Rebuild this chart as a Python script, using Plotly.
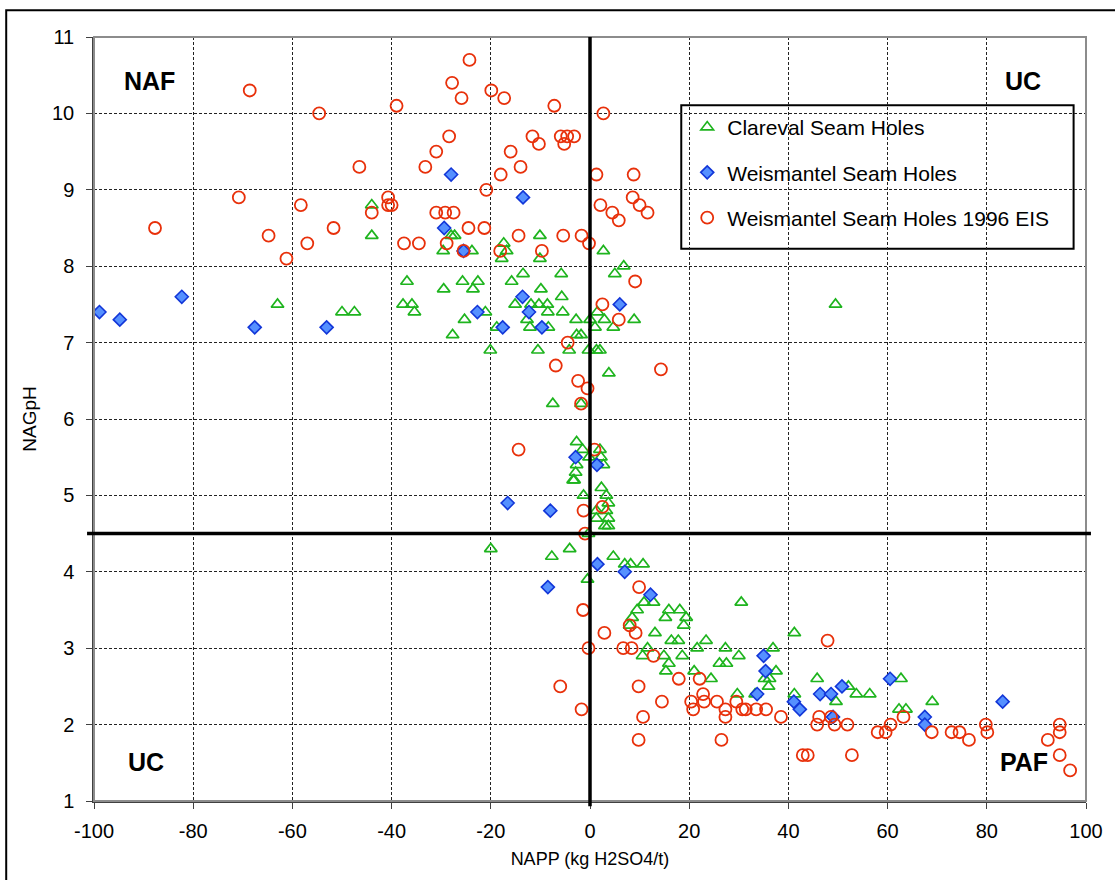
import plotly.graph_objects as go

# Clareval seam holes (NAPP, NAGpH)
clareval_x = [-63, -50, -47.5, -44, -44, -37.7, -35.9, -35.4, -36.9,
              -28, -27.3, -29.6, -23.8, -17.4, -16.8, -17.8, -10.1, -10.1, 2.7, 6.8, 5.0,
              -29.5, -25.7, -22.6, -23.6, -15.8, -13.5, -9.9, -5.8, -5.7,
              -25.3, -21.1, -27.7, -15.1, -11.9, -10.3, -8.6, -12.7, -12.1, -8.5, -5.5,
              -18.8, -8.4, -2.8, 0.0, 1.5, 2.9, 1.0, 4.7, 8.9, -2.7, -1.8,
              -20.1, -10.5, -4.2, -0.3, 1.3, 2.0, 3.8, -7.5, -1.8, 49.5,
              -2.7, -1.5, -0.2, 2.0, 2.2, 2.7, -2.7, -2.9, -3.2, -3.4, -1.3, 2.3, 3.3,
              3.7, 1.3, 3.3, 1.3, 3.7, 3.0, 3.7, -0.3,
              -20.0, -4.1, -7.7, 4.7, -0.5, 7.0, 8.2, 10.7,
              10.9, 12.8, 9.5, 8.5, 8.0, 15.9, 18.1, 15.2, 19.4, 18.9, 13.1, 30.5,
              16.4, 17.8, 23.4, 11.6, 21.6, 27.3, 36.9, 10.6, 14.9, 18.6, 30.0,
              15.9, 26.1, 27.5, 15.3, 21.0, 24.4, 29.7, 33.3, 37.5, 35.2, 36.2, 36.0,
              41.2, 41.2, 45.8, 52.1, 53.7, 56.4, 49.6, 62.7, 62.3, 63.7, 69.0]
clareval_y = [7.5, 7.4, 7.4, 8.8, 8.4, 7.5, 7.5, 7.4, 7.8,
              8.4, 8.4, 8.2, 8.2, 8.3, 8.2, 8.1, 8.4, 8.1, 8.2, 8.0, 7.9,
              7.7, 7.8, 7.8, 7.7, 7.8, 7.9, 7.7, 7.9, 7.6,
              7.3, 7.4, 7.1, 7.5, 7.5, 7.5, 7.5, 7.3, 7.2, 7.4, 7.4,
              7.2, 7.2, 7.3, 7.3, 7.4, 7.3, 7.2, 7.2, 7.3, 7.1, 7.1,
              6.9, 6.9, 6.9, 6.9, 6.9, 6.9, 6.6, 6.2, 6.2, 7.5,
              5.7, 5.6, 5.5, 5.6, 5.5, 5.4, 5.4, 5.3, 5.2, 5.2, 5.0, 5.1, 5.0,
              4.9, 4.8, 4.8, 4.7, 4.7, 4.6, 4.6, 4.5,
              4.3, 4.3, 4.2, 4.2, 3.9, 4.1, 4.1, 4.1,
              3.6, 3.6, 3.5, 3.4, 3.3, 3.5, 3.5, 3.4, 3.4, 3.3, 3.2, 3.6,
              3.1, 3.1, 3.1, 3.0, 3.0, 3.0, 3.0, 2.9, 2.9, 2.9, 2.9,
              2.8, 2.8, 2.8, 2.7, 2.7, 2.6, 2.4, 2.4, 2.7, 2.6, 2.6, 2.5,
              3.2, 2.4, 2.6, 2.5, 2.4, 2.4, 2.3, 2.6, 2.2, 2.2, 2.3]

# Weismantel seam holes
weis_x = [-98.9, -94.8, -82.3, -67.6, -53.1, -28.0, -13.5, -29.4, -25.5, -13.6,
          -22.7, -12.3, -17.6, -9.7, 6.0, -2.9, 1.4, -16.6, -8.0, 1.5, -8.5, 7.0,
          12.2, 35.0, 35.4, 33.7, 41.1, 42.3, 46.4, 48.6, 50.8, 49.0, 60.5, 67.5,
          67.5, 83.2]
weis_y = [7.4, 7.3, 7.6, 7.2, 7.2, 9.2, 8.9, 8.5, 8.2, 7.6,
          7.4, 7.4, 7.2, 7.2, 7.5, 5.5, 5.4, 4.9, 4.8, 4.1, 3.8, 4.0,
          3.7, 2.9, 2.7, 2.4, 2.3, 2.2, 2.4, 2.4, 2.5, 2.1, 2.6, 2.1,
          2.0, 2.3]

# Weismantel seam holes, 1996 EIS
eis_x = [-68.6, -54.6, -39.0, -46.5, -70.8, -58.3, -87.7, -64.8, -51.7, -57.0, -61.2,
         -40.7, -40.7, -40.0, -44.0, -37.5, -34.5,
         -24.3, -27.8, -25.9, -19.9, -17.3, -7.2, 2.7, -28.4, -31.0, -33.2, -11.6,
         -10.3, -16.0, -14.0, -5.9, -4.6, -3.2, -5.2, -18.0, 1.3, 8.8, -20.9, 2.1,
         8.6, 10.0, 11.6, 4.5, 5.8, -31.0, -29.2, -27.5, -24.5, -21.3, -28.9, -14.4,
         -5.4, -1.7, -0.2, -18.1, -9.7, -25.5, 9.1, 2.5, 5.8, -4.5, -6.9, -2.4, -0.5,
         14.3, -1.8, -14.4, 0.9, -1.3, 2.5, -1.0,
         9.9, -1.4, 8.0, 9.2, 2.9, -0.3, 6.7, 8.4, 12.8, 17.9, 22.1, -6.0, 9.8, 22.8,
         14.5, 20.4, 23.0, 25.6, 29.5, 20.8, 27.3, 30.7, 31.4, 33.5, 35.5, -1.7, 10.7,
         27.3, 38.5, 9.8, 26.5,
         47.9, 46.2, 45.8, 48.6, 49.3, 51.9, 42.9, 43.9, 52.8, 58.0, 59.6, 60.6, 63.2,
         68.9, 72.9, 74.5, 76.4, 79.8, 80.1, 92.3, 94.7, 94.7, 94.7, 96.8]
eis_y = [10.3, 10.0, 10.1, 9.3, 8.9, 8.8, 8.5, 8.4, 8.5, 8.3, 8.1,
         8.9, 8.8, 8.8, 8.7, 8.3, 8.3,
         10.7, 10.4, 10.2, 10.3, 10.2, 10.1, 10.0, 9.7, 9.5, 9.3, 9.7,
         9.6, 9.5, 9.3, 9.7, 9.7, 9.7, 9.6, 9.2, 9.2, 9.2, 9.0, 8.8,
         8.9, 8.8, 8.7, 8.7, 8.6, 8.7, 8.7, 8.7, 8.5, 8.5, 8.3, 8.4,
         8.4, 8.4, 8.3, 8.2, 8.2, 8.2, 7.8, 7.5, 7.3, 7.0, 6.7, 6.5, 6.4,
         6.65, 6.2, 5.6, 5.6, 4.8, 4.85, 4.5,
         3.8, 3.5, 3.3, 3.2, 3.2, 3.0, 3.0, 3.0, 2.9, 2.6, 2.6, 2.5, 2.5, 2.4,
         2.3, 2.3, 2.3, 2.3, 2.3, 2.2, 2.2, 2.2, 2.2, 2.2, 2.2, 2.2, 2.1,
         2.1, 2.1, 1.8, 1.8,
         3.1, 2.1, 2.0, 2.1, 2.0, 2.0, 1.6, 1.6, 1.6, 1.9, 1.9, 2.0, 2.1,
         1.9, 1.9, 1.9, 1.8, 2.0, 1.9, 1.8, 2.0, 1.9, 1.6, 1.4]

x_ticks = [-100, -80, -60, -40, -20, 0, 20, 40, 60, 80, 100]
y_ticks = [1, 2, 3, 4, 5, 6, 7, 8, 9, 10, 11]
napp_limit = 0
nagph_limit = 4.5

FONT = "Liberation Sans, Arial, sans-serif"

fig = go.Figure()

fig.add_trace(go.Scatter(
    x=clareval_x, y=clareval_y, mode="markers", name="Clareval Seam Holes",
    legendgroup="a",
    marker=dict(symbol="triangle-up-open", size=11, color="#1EB41E",
                line=dict(width=1.7, color="#1EB41E")),
))
fig.add_trace(go.Scatter(
    x=weis_x, y=weis_y, mode="markers", name="Weismantel Seam Holes",
    legendgroup="b",
    marker=dict(symbol="diamond", size=10, color="#5590FF",
                line=dict(width=1.6, color="#1236D8")),
))
fig.add_trace(go.Scatter(
    x=eis_x, y=eis_y, mode="markers", name="Weismantel Seam Holes 1996 EIS",
    legendgroup="c",
    marker=dict(symbol="circle-open", size=12, color="#E8300A",
                line=dict(width=1.8, color="#E8300A")),
))

shapes = [
    # legend frame
    dict(type="rect", xref="x", yref="y", x0=18.4, x1=97.5, y0=8.23, y1=10.106,
         fillcolor="white", line=dict(color="black", width=2), layer="below"),
    # plot-area frame
    dict(type="rect", xref="paper", yref="paper", x0=0, x1=1, y0=0, y1=1,
         line=dict(color="#8c8c8c", width=2), layer="above"),
    # NAPP = 0 divider
    dict(type="line", xref="x", yref="paper", x0=napp_limit, x1=napp_limit,
         y0=-0.007, y1=1, line=dict(color="black", width=3.5)),
    # NAGpH = 4.5 divider
    dict(type="line", xref="paper", yref="y", x0=-0.007, x1=1.005,
         y0=nagph_limit, y1=nagph_limit, line=dict(color="black", width=3.5)),
    # chart frame
    dict(type="rect", xref="paper", yref="paper", x0=-0.0885, x1=1.2,
         y0=-0.3, y1=1.0349, line=dict(color="black", width=2)),
]

annotations = [
    dict(x=-88.8, y=10.43, text="<b>NAF</b>"),
    dict(x=87.3, y=10.42, text="<b>UC</b>"),
    dict(x=-89.6, y=1.51, text="<b>UC</b>"),
    dict(x=87.4, y=1.51, text="<b>PAF</b>"),
]
for a in annotations:
    a.update(xref="x", yref="y", showarrow=False,
             font=dict(family=FONT, size=25, color="black"))

fig.update_layout(
    width=1115, height=880,
    margin=dict(l=94, r=26, t=37, b=79),
    paper_bgcolor="white", plot_bgcolor="white",
    font=dict(family=FONT, size=19, color="black"),
    shapes=shapes, annotations=annotations,
    showlegend=True,
    legend=dict(
        x=0.598, y=0.9085, xanchor="left", yanchor="top",
        bgcolor="rgba(0,0,0,0)", borderwidth=0,
        font=dict(family=FONT, size=21, color="black"),
        tracegroupgap=15, itemwidth=30,
    ),
    xaxis=dict(
        range=[-100, 100], tickvals=x_ticks, ticktext=[str(v) for v in x_ticks],
        showgrid=True, gridcolor="#222222", gridwidth=1, griddash="3px,2px",
        zeroline=False, showline=True, linecolor="#404040", linewidth=1.5,
        ticks="outside", ticklen=6, tickcolor="#404040",
        tickfont=dict(family=FONT, size=20), ticklabelstandoff=5,
        title=dict(text="NAPP (kg H2SO4/t)", font=dict(family=FONT, size=18),
                   standoff=12),
    ),
    yaxis=dict(
        range=[1, 11], tickvals=y_ticks, ticktext=[str(v) for v in y_ticks],
        showgrid=True, gridcolor="#222222", gridwidth=1, griddash="3px,2px",
        zeroline=False, showline=True, linecolor="#404040", linewidth=1.5,
        ticks="outside", ticklen=6, tickcolor="#404040",
        tickfont=dict(family=FONT, size=20), ticklabelstandoff=8,
        title=dict(text="NAGpH", font=dict(family=FONT, size=19), standoff=10),
    ),
)

fig.write_html("out.html")
